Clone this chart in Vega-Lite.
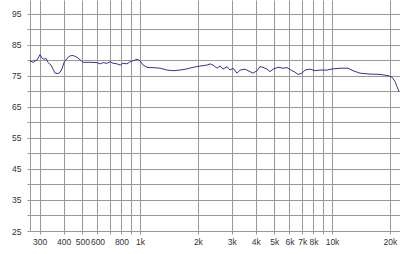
{
  "$schema": "https://vega.github.io/schema/vega-lite/v6.json",
  "width": 370,
  "height": 231,
  "autosize": {"type": "none"},
  "padding": {"left": 30, "top": 0, "right": 0, "bottom": 23},
  "background": "white",
  "config": {"view": {"stroke": null}},
  "data": {"values": [
    {"f": 267, "db": 79.9}, {"f": 277, "db": 79.4}, {"f": 291, "db": 80.2}, {"f": 301, "db": 81.9},
    {"f": 309, "db": 80.7}, {"f": 316, "db": 80.4}, {"f": 324, "db": 80.6}, {"f": 332, "db": 79.3},
    {"f": 344, "db": 78.5}, {"f": 352, "db": 77.2}, {"f": 361, "db": 75.9}, {"f": 374, "db": 75.8},
    {"f": 383, "db": 76.2}, {"f": 393, "db": 77.5}, {"f": 402, "db": 79.4}, {"f": 417, "db": 80.7},
    {"f": 432, "db": 81.5}, {"f": 448, "db": 81.6}, {"f": 470, "db": 81.0}, {"f": 487, "db": 80.2},
    {"f": 505, "db": 79.4}, {"f": 549, "db": 79.4}, {"f": 597, "db": 79.3}, {"f": 620, "db": 78.9},
    {"f": 642, "db": 79.3}, {"f": 673, "db": 79.1}, {"f": 698, "db": 79.6}, {"f": 723, "db": 79.1},
    {"f": 759, "db": 78.9}, {"f": 787, "db": 78.5}, {"f": 815, "db": 79.1}, {"f": 855, "db": 78.9},
    {"f": 887, "db": 79.6}, {"f": 920, "db": 79.9}, {"f": 965, "db": 80.4}, {"f": 1000, "db": 79.9},
    {"f": 1037, "db": 78.5}, {"f": 1087, "db": 77.8}, {"f": 1127, "db": 77.7}, {"f": 1169, "db": 77.7},
    {"f": 1271, "db": 77.5}, {"f": 1382, "db": 76.9}, {"f": 1486, "db": 76.7}, {"f": 1615, "db": 76.9},
    {"f": 1758, "db": 77.3}, {"f": 1889, "db": 77.8}, {"f": 2054, "db": 78.2}, {"f": 2233, "db": 78.5},
    {"f": 2317, "db": 78.9}, {"f": 2400, "db": 78.5}, {"f": 2518, "db": 77.5}, {"f": 2610, "db": 78.2},
    {"f": 2705, "db": 77.2}, {"f": 2838, "db": 78.0}, {"f": 2943, "db": 76.9}, {"f": 3050, "db": 77.5},
    {"f": 3200, "db": 75.9}, {"f": 3317, "db": 76.9}, {"f": 3522, "db": 77.2}, {"f": 3740, "db": 76.4},
    {"f": 3877, "db": 75.9}, {"f": 4067, "db": 76.7}, {"f": 4217, "db": 78.0}, {"f": 4372, "db": 77.8},
    {"f": 4587, "db": 77.2}, {"f": 4754, "db": 76.4}, {"f": 4929, "db": 77.2}, {"f": 5233, "db": 77.8},
    {"f": 5556, "db": 77.5}, {"f": 5829, "db": 77.7}, {"f": 6189, "db": 76.7}, {"f": 6417, "db": 76.2},
    {"f": 6653, "db": 75.5}, {"f": 6980, "db": 75.9}, {"f": 7236, "db": 76.9}, {"f": 7683, "db": 77.2},
    {"f": 8156, "db": 76.7}, {"f": 8660, "db": 76.9}, {"f": 9418, "db": 76.9}, {"f": 10120, "db": 77.3},
    {"f": 11000, "db": 77.5}, {"f": 12110, "db": 77.5}, {"f": 12860, "db": 76.7}, {"f": 13990, "db": 75.9},
    {"f": 15780, "db": 75.6}, {"f": 17780, "db": 75.5}, {"f": 19580, "db": 75.1}, {"f": 20540, "db": 74.6},
    {"f": 21290, "db": 73.2}, {"f": 21820, "db": 71.5}, {"f": 22340, "db": 70.0}
  ]},
  "mark": {"type": "line", "color": "#333399", "strokeWidth": 1, "clip": true},
  "encoding": {
    "x": {
      "field": "f", "type": "quantitative",
      "scale": {"type": "log", "domain": [267, 22600], "nice": false},
      "axis": {
        "title": null,
        "values": [300, 400, 500, 600, 700, 800, 900, 1000, 2000, 3000, 4000, 5000, 6000, 7000, 8000, 9000, 10000, 20000],
        "labelExpr": "datum.value == 700 || datum.value == 900 || datum.value == 9000 ? '' : (datum.value >= 1000 ? (datum.value / 1000) + 'k' : '' + datum.value)",
        "labelOverlap": false,
        "labelFont": "Liberation Sans",
        "labelFontSize": 8.5,
        "labelColor": "#333333",
        "labelPadding": 3,
        "tickSize": 3,
        "tickColor": "#999999",
        "domain": false,
        "grid": true,
        "gridColor": "#999999",
        "gridOpacity": 1,
        "gridWidth": 1
      }
    },
    "y": {
      "field": "db", "type": "quantitative",
      "scale": {"domain": [25, 99.5], "nice": false, "zero": false},
      "axis": {
        "title": null,
        "values": [25, 30, 35, 40, 45, 50, 55, 60, 65, 70, 75, 80, 85, 90, 95],
        "labelExpr": "datum.value % 10 == 5 ? '' + datum.value : ''",
        "labelFont": "Liberation Sans",
        "labelFontSize": 8.5,
        "labelColor": "#333333",
        "labelPadding": 6,
        "tickSize": 3,
        "tickColor": "#999999",
        "domain": true,
        "domainColor": "#999999",
        "grid": true,
        "gridColor": "#999999",
        "gridOpacity": 1,
        "gridWidth": 1
      }
    }
  }
}
